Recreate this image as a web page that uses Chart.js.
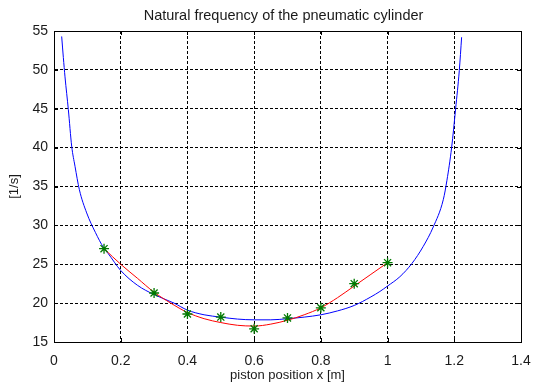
<!DOCTYPE html>
<html>
<head>
<meta charset="utf-8">
<script src="https://cdn.jsdelivr.net/npm/chart.js@4"></script>
<style>
  html, body { margin: 0; padding: 0; background: #ffffff; }
  #wrap { width: 533px; height: 387px; }
</style>
</head>
<body>
<div id="wrap"><canvas id="c" width="533" height="387"></canvas></div>
<script>
// ---- data ----
const titleText = 'Natural frequency of the pneumatic cylinder';
const xAxisTitle = 'piston position x [m]';
const yAxisTitle = '[1/s]';
const xTickLabels = ['0', '0.2', '0.4', '0.6', '0.8', '1', '1.2', '1.4'];
const yTickLabels = ['15', '20', '25', '30', '35', '40', '45', '50', '55'];

// blue: model curve
const modelX = [0.023, 0.028, 0.033, 0.043, 0.053, 0.063, 0.076, 0.098, 0.124, 0.149, 0.162, 0.2, 0.25, 0.3, 0.36, 0.4, 0.45, 0.5, 0.55, 0.6, 0.65, 0.7, 0.75, 0.8, 0.85, 0.9, 0.95, 0.977, 1.0, 1.037, 1.073, 1.107, 1.137, 1.167, 1.178, 1.192, 1.204, 1.215, 1.222];
const modelY = [54.3, 51.6, 49.1, 44.9, 40.2, 37.6, 34.6, 31.6, 29.1, 27.1, 26.4, 24.2, 22.3, 21.1, 20.0, 19.1, 18.5, 18.2, 17.95, 17.85, 17.85, 18.0, 18.2, 18.5, 19.0, 19.7, 20.8, 21.5, 22.2, 23.4, 25.1, 27.3, 29.8, 33.3, 35.8, 40.0, 45.0, 49.9, 54.2];

// red: fitted curve
const fitX = [0.15, 0.2, 0.25, 0.3, 0.35, 0.4, 0.45, 0.5, 0.55, 0.6, 0.65, 0.7, 0.75, 0.8, 0.85, 0.9, 0.95, 1.0];
const fitY = [27.0, 25.0, 23.2, 21.4, 20.0, 18.8, 18.0, 17.5, 17.15, 17.05, 17.3, 17.8, 18.5, 19.4, 20.7, 22.2, 23.7, 25.2];

// green stars: measurements
const measX = [0.15, 0.3, 0.4, 0.5, 0.6, 0.7, 0.8, 0.9, 1.0];
const measY = [27.0, 21.3, 18.6, 18.2, 16.7, 18.1, 19.4, 22.5, 25.2];

const toPts = (xs, ys) => xs.map((x, i) => ({ x: x, y: ys[i] }));

const FONT = 'Arial, "Liberation Sans", Helvetica, sans-serif';
const TXT = '#1a1a1a';

// centre the title over the plot box (as MATLAB does)
const titleCenter = {
  id: 'titleCenter',
  afterLayout(chart) {
    const tb = chart.titleBlock;
    if (tb) {
      tb.left = chart.chartArea.left - 4;
      tb.right = chart.chartArea.right - 4;
    }
  }
};

const boxPlugin = {
  id: 'boxPlugin',
  afterDraw(chart) {
    const { ctx, chartArea: a, scales } = chart;
    ctx.save();
    ctx.strokeStyle = '#000';
    ctx.lineWidth = 1;
    ctx.setLineDash([]);
    ctx.strokeRect(Math.round(a.left) + 0.5, Math.round(a.top) + 0.5,
                   Math.round(a.right - a.left), Math.round(a.bottom - a.top));
    const tl = 4;
    ctx.beginPath();
    scales.x.ticks.forEach(t => {
      const px = Math.round(scales.x.getPixelForValue(t.value)) + 0.5;
      ctx.moveTo(px, a.bottom); ctx.lineTo(px, a.bottom - tl);
      ctx.moveTo(px, a.top); ctx.lineTo(px, a.top + tl);
    });
    scales.y.ticks.forEach(t => {
      const py = Math.round(scales.y.getPixelForValue(t.value)) + 0.5;
      ctx.moveTo(a.left, py); ctx.lineTo(a.left + tl, py);
      ctx.moveTo(a.right, py); ctx.lineTo(a.right - tl, py);
    });
    ctx.stroke();
    ctx.restore();
  }
};

new Chart(document.getElementById('c'), {
  type: 'scatter',
  data: {
    datasets: [
      {
        label: 'measured',
        data: toPts(measX, measY),
        showLine: false,
        pointStyle: 'star',
        pointRadius: 5,
        pointBorderWidth: 1.3,
        borderColor: '#007a00',
        backgroundColor: '#007a00'
      },
      {
        label: 'fit',
        data: toPts(fitX, fitY),
        showLine: true,
        borderColor: '#ff0000',
        borderWidth: 1,
        pointRadius: 0,
        cubicInterpolationMode: 'monotone'
      },
      {
        label: 'model',
        data: toPts(modelX, modelY),
        showLine: true,
        borderColor: '#0000ff',
        borderWidth: 1,
        pointRadius: 0,
        cubicInterpolationMode: 'monotone'
      }
    ]
  },
  options: {
    responsive: false,
    animation: false,
    events: [],
    layout: { padding: { left: 0, right: 12, top: 0, bottom: 0 } },
    plugins: {
      legend: { display: false },
      tooltip: { enabled: false },
      title: {
        display: true,
        text: titleText,
        color: TXT,
        font: { family: FONT, size: 14.5, weight: 'normal' },
        padding: { top: 7.5, bottom: 6.1 }
      }
    },
    scales: {
      x: {
        type: 'linear',
        min: 0,
        max: 1.4,
        afterFit(scale) {
          scale.height = 45;
          scale.paddingLeft = 0;
          scale.paddingRight = 0;
        },
        ticks: {
          stepSize: 0.2,
          color: TXT,
          padding: 11,
          maxRotation: 0,
          font: { family: FONT, size: 14 },
          callback: (v, i) => xTickLabels[i]
        },
        grid: { color: '#000', lineWidth: 1, drawTicks: false },
        border: { display: true, color: '#000', width: 1, dash: [3, 2] },
        title: {
          display: true,
          text: xAxisTitle,
          color: TXT,
          font: { family: FONT, size: 13 },
          padding: { top: 0, bottom: 4 }
        }
      },
      y: {
        type: 'linear',
        min: 15,
        max: 55,
        afterFit(scale) {
          scale.width = 54;
          scale.paddingTop = 0;
          scale.paddingBottom = 0;
        },
        ticks: {
          stepSize: 5,
          color: TXT,
          padding: 6,
          font: { family: FONT, size: 14 },
          callback: (v, i) => yTickLabels[i]
        },
        grid: { color: '#000', lineWidth: 1, drawTicks: false },
        border: { display: true, color: '#000', width: 1, dash: [3, 2] },
        title: {
          display: true,
          text: yAxisTitle,
          color: TXT,
          font: { family: FONT, size: 13 },
          padding: { top: 7, bottom: 0 }
        }
      }
    }
  },
  plugins: [titleCenter, boxPlugin]
});
</script>
</body>
</html>
